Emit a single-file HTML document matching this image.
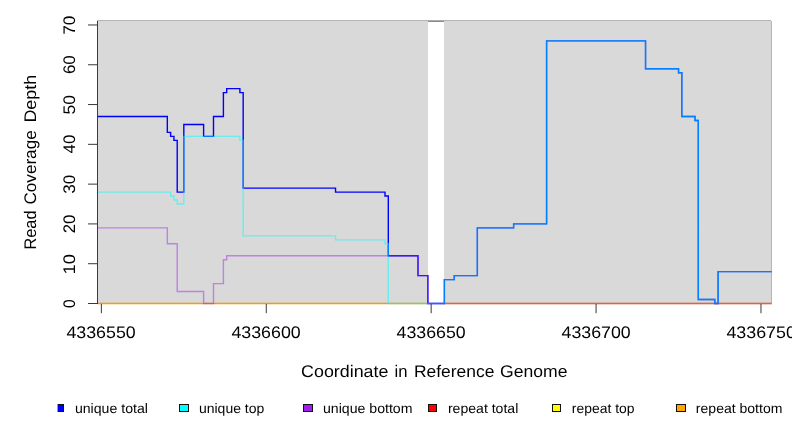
<!DOCTYPE html>
<html><head><meta charset="utf-8"><style>
html,body{margin:0;padding:0;background:#fff;overflow:hidden;}
svg{display:block;}
text{font-family:"Liberation Sans", sans-serif;fill:#000;text-rendering:geometricPrecision;}
</style></head><body>
<svg width="792" height="432" viewBox="0 0 792 432">
<rect x="0" y="0" width="792" height="432" fill="#fff"/>
<rect x="98" y="21" width="673" height="282" fill="#d9d9d9"/>
<rect x="98" y="20" width="673" height="1" fill="#b5b5b5"/>
<rect x="771" y="21" width="1" height="282" fill="#b5b5b5"/>
<rect x="428.0" y="21" width="16.00" height="282" fill="#fff"/>
<line x1="428.0" y1="21.4" x2="444.0" y2="21.4" stroke="#7a7a7a" stroke-width="1"/>
<g fill="none" stroke-linejoin="miter" stroke-linecap="butt">
<path d="M97.5,303.5 H428.0" stroke="#ff9900" stroke-width="1.4"/>
<path d="M444.0,303.5 H771.7" stroke="#ff9900" stroke-width="1.4"/>
<path d="M97.50,116.49 H167.33 V132.40 H170.63 V136.38 H173.93 V140.36 H177.22 V192.09 H183.82 V124.44 H203.61 V136.38 H213.50 V116.49 H223.40 V92.61 H226.69 V88.63 H239.89 V92.61 H243.18 V188.11 H335.53 V192.09 H385.00 V196.07 H388.30 V255.75 H417.98 V275.65 H427.87 V303.50 H444.36 V279.63 H454.26 V275.65 H477.34 V227.90 H513.62 V223.92 H546.60 V40.89 H645.54 V68.74 H678.52 V72.72 H681.82 V116.49 H695.01 V120.47 H698.31 V299.52 H714.80 V303.50 H718.10 V271.67 H771.70" stroke="#0000ff" stroke-width="1.4"/>
<path d="M97.50,192.09 H170.63 V196.07 H173.93 V200.05 H177.22 V204.02 H183.82 V136.38 H239.89 V140.36 H243.18 V235.86 H335.53 V239.84 H385.00 V243.81 H388.30 V303.50 H444.36 V279.63 H454.26 V275.65 H477.34 V227.90 H513.62 V223.92 H546.60 V40.89 H645.54 V68.74 H678.52 V72.72 H681.82 V116.49 H695.01 V120.47 H698.31 V299.52 H714.80 V303.50 H718.10 V271.67 H771.70" stroke="#00ffff" stroke-opacity="0.5" stroke-width="1.4"/>
<path d="M97.50,227.90 H167.33 V243.81 H177.22 V291.56 H203.61 V303.50 H213.50 V283.61 H223.40 V259.73 H226.69 V255.75 H417.98 V275.65 H427.87 V303.50 H771.70" stroke="#a020f0" stroke-opacity="0.47" stroke-width="1.4"/>
</g>
<rect x="97" y="20.7" width="1" height="283.3" fill="#3c3c3c"/>
<g stroke="#383838" stroke-width="1"><line x1="88" y1="303.50" x2="97.6" y2="303.50"/><line x1="88" y1="263.71" x2="97.6" y2="263.71"/><line x1="88" y1="223.92" x2="97.6" y2="223.92"/><line x1="88" y1="184.13" x2="97.6" y2="184.13"/><line x1="88" y1="144.34" x2="97.6" y2="144.34"/><line x1="88" y1="104.55" x2="97.6" y2="104.55"/><line x1="88" y1="64.76" x2="97.6" y2="64.76"/><line x1="88" y1="24.97" x2="97.6" y2="24.97"/><line x1="101.37" y1="303.9" x2="101.37" y2="313.2"/><line x1="266.27" y1="303.9" x2="266.27" y2="313.2"/><line x1="431.17" y1="303.9" x2="431.17" y2="313.2"/><line x1="596.07" y1="303.9" x2="596.07" y2="313.2"/><line x1="760.97" y1="303.9" x2="760.97" y2="313.2"/></g>
<rect x="57" y="404" width="7" height="8" fill="#111"/><rect x="57" y="405" width="6" height="6" fill="#0000ff"/><rect x="57" y="404" width="1" height="8" fill="#8a8aff"/><rect x="179" y="404" width="10" height="8" fill="#111"/><rect x="180" y="405" width="8" height="6" fill="#00ffff"/><rect x="303" y="404" width="10" height="8" fill="#111"/><rect x="304" y="405" width="8" height="6" fill="#a020f0"/><rect x="428" y="404" width="9" height="8" fill="#111"/><rect x="429" y="405" width="7" height="6" fill="#ff0000"/><rect x="552" y="404" width="9" height="8" fill="#111"/><rect x="553" y="405" width="7" height="6" fill="#ffff00"/><rect x="676" y="404" width="10" height="8" fill="#111"/><rect x="677" y="405" width="8" height="6" fill="#ffa500"/>
<g style="opacity:0.999">
<text x="66.40" y="338.0" font-size="16.8" textLength="69.33" lengthAdjust="spacingAndGlyphs">4336550</text>
<text x="231.42" y="338.0" font-size="16.8" textLength="69.28" lengthAdjust="spacingAndGlyphs">4336600</text>
<text x="396.56" y="338.0" font-size="16.8" textLength="69.13" lengthAdjust="spacingAndGlyphs">4336650</text>
<text x="561.56" y="338.0" font-size="16.8" textLength="69.13" lengthAdjust="spacingAndGlyphs">4336700</text>
<text x="726.42" y="338.0" font-size="16.8" textLength="69.44" lengthAdjust="spacingAndGlyphs">4336750</text>
<text x="301.09" y="377.0" font-size="16.8" textLength="87.31" lengthAdjust="spacingAndGlyphs">Coordinate</text>
<text x="394.55" y="377.0" font-size="16.8" textLength="12.96" lengthAdjust="spacingAndGlyphs">in</text>
<text x="413.92" y="377.0" font-size="16.8" textLength="80.45" lengthAdjust="spacingAndGlyphs">Reference</text>
<text x="500.08" y="377.0" font-size="16.8" textLength="67.45" lengthAdjust="spacingAndGlyphs">Genome</text>
<text x="74.93" y="412.7" font-size="13.7" textLength="72.96" lengthAdjust="spacingAndGlyphs">unique total</text>
<text x="198.93" y="412.7" font-size="13.7" textLength="65.39" lengthAdjust="spacingAndGlyphs">unique top</text>
<text x="323.00" y="412.7" font-size="13.7" textLength="89.44" lengthAdjust="spacingAndGlyphs">unique bottom</text>
<text x="447.91" y="412.7" font-size="13.7" textLength="70.38" lengthAdjust="spacingAndGlyphs">repeat total</text>
<text x="571.84" y="412.7" font-size="13.7" textLength="62.64" lengthAdjust="spacingAndGlyphs">repeat top</text>
<text x="695.88" y="412.7" font-size="13.7" textLength="86.52" lengthAdjust="spacingAndGlyphs">repeat bottom</text>
<text transform="translate(75.2,308.07) rotate(-90)" font-size="16.8" textLength="8.67" lengthAdjust="spacingAndGlyphs">0</text>
<text transform="translate(75.2,274.58) rotate(-90)" font-size="16.8" textLength="20.48" lengthAdjust="spacingAndGlyphs">10</text>
<text transform="translate(75.2,233.34) rotate(-90)" font-size="16.8" textLength="18.59" lengthAdjust="spacingAndGlyphs">20</text>
<text transform="translate(75.2,193.82) rotate(-90)" font-size="16.8" textLength="18.96" lengthAdjust="spacingAndGlyphs">30</text>
<text transform="translate(75.2,153.41) rotate(-90)" font-size="16.8" textLength="18.69" lengthAdjust="spacingAndGlyphs">40</text>
<text transform="translate(75.2,114.47) rotate(-90)" font-size="16.8" textLength="19.48" lengthAdjust="spacingAndGlyphs">50</text>
<text transform="translate(75.2,74.08) rotate(-90)" font-size="16.8" textLength="18.88" lengthAdjust="spacingAndGlyphs">60</text>
<text transform="translate(75.2,34.74) rotate(-90)" font-size="16.8" textLength="19.15" lengthAdjust="spacingAndGlyphs">70</text>
<text transform="translate(35.9,249.62) rotate(-90)" font-size="16.8" textLength="39.16" lengthAdjust="spacingAndGlyphs">Read</text>
<text transform="translate(35.9,204.56) rotate(-90)" font-size="16.8" textLength="74.23" lengthAdjust="spacingAndGlyphs">Coverage</text>
<text transform="translate(35.9,122.61) rotate(-90)" font-size="16.8" textLength="47.84" lengthAdjust="spacingAndGlyphs">Depth</text>
</g>
</svg>
</body></html>
